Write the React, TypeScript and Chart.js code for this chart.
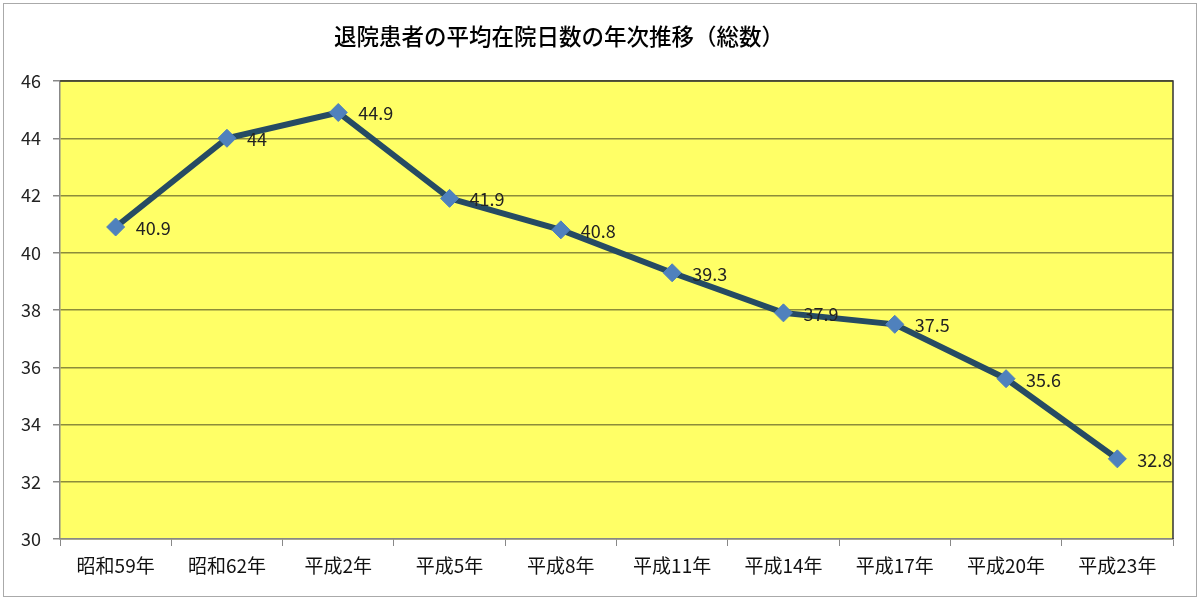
import { useEffect, useRef } from 'react'
import { Chart, registerables } from 'chart.js'

Chart.register(...registerables)

const years = ['昭和59年', '昭和62年', '平成2年', '平成5年', '平成8年', '平成11年', '平成14年', '平成17年', '平成20年', '平成23年']
const avgDays = [40.9, 44, 44.9, 41.9, 40.8, 39.3, 37.9, 37.5, 35.6, 32.8]
const titleText = '退院患者の平均在院日数の年次推移（総数）'

const FONT = '"Noto Sans CJK JP", "Noto Sans", sans-serif'

// yellow plot background + dark top/right frame
const plotBg = {
  id: 'plotBg',
  beforeDraw(chart: Chart) {
    const { ctx, chartArea: a } = chart
    ctx.save()
    ctx.fillStyle = '#ffff66'
    ctx.fillRect(a.left, a.top, a.right - a.left, a.bottom - a.top)
    ctx.restore()
  },
  afterDraw(chart: Chart) {
    const { ctx, chartArea: a } = chart
    ctx.save()
    ctx.strokeStyle = '#333'
    ctx.lineWidth = 1.5
    ctx.beginPath()
    ctx.moveTo(a.left, a.top)
    ctx.lineTo(a.right, a.top)
    ctx.lineTo(a.right, a.bottom)
    ctx.stroke()
    ctx.restore()
  },
}

// value labels to the right of each point
const valueLabels = {
  id: 'valueLabels',
  afterDatasetsDraw(chart: Chart) {
    const { ctx } = chart
    const meta = chart.getDatasetMeta(0)
    ctx.save()
    ctx.font = `18px ${FONT}`
    ctx.fillStyle = '#222'
    ctx.textAlign = 'left'
    ctx.textBaseline = 'middle'
    meta.data.forEach((pt, i) => {
      ctx.fillText(String(avgDays[i]), pt.x + 20, pt.y + 1)
    })
    ctx.restore()
  },
}

function DaysChart() {
  const canvasRef = useRef<HTMLCanvasElement>(null)

  useEffect(() => {
    if (!canvasRef.current) return
    const chart = new Chart(canvasRef.current, {
      type: 'line',
      data: {
        labels: years,
        datasets: [
          {
            data: avgDays,
            borderColor: '#264b63',
            borderWidth: 6,
            pointStyle: 'rectRot',
            pointRadius: 9,
            pointBackgroundColor: '#4f81bd',
            pointBorderColor: '#4f81bd',
            pointBorderWidth: 1,
            tension: 0,
          },
        ],
      },
      options: {
        animation: false,
        responsive: true,
        maintainAspectRatio: false,
        layout: { padding: { left: 0, right: 27, top: 81, bottom: 0 } },
        plugins: {
          legend: { display: false },
          tooltip: { enabled: false },
        },
        scales: {
          x: {
            offset: true,
            grid: { offset: true, drawOnChartArea: false, tickLength: 7, tickColor: '#888' },
            border: { color: '#888', width: 1.5 },
            ticks: { color: '#111', font: { family: FONT, size: 19 }, padding: 8, maxRotation: 0 },
            afterFit: (s: any) => { s.height = 68 },
          },
          y: {
            min: 30,
            max: 46,
            ticks: { stepSize: 2, color: '#222', font: { family: FONT, size: 18 }, padding: 12 },
            grid: { color: '#8c8c3a', lineWidth: 1.5, tickLength: 7, tickColor: '#888' },
            border: { color: '#888', width: 1.5 },
            afterFit: (s: any) => { s.width = 60 },
          },
        },
      },
      plugins: [plotBg, valueLabels],
    })
    return () => { chart.destroy() }
  }, [])

  return (
    <div style={{ position: 'absolute', left: 0, top: 0, width: 1200, height: 607 }}>
      <canvas ref={canvasRef} />
    </div>
  )
}

export default function App() {
  return (
    <div style={{ position: 'fixed', left: 0, top: 0, width: 1200, height: 607, background: '#fff', fontFamily: FONT }}>
      <div style={{ position: 'absolute', left: 3, top: 3, width: 1192, height: 592, border: '1px solid #aaa' }} />
      <DaysChart />
      <div
        style={{
          position: 'absolute',
          left: 259,
          width: 600,
          top: 20,
          textAlign: 'center',
          fontSize: 22.5,
          lineHeight: '30px',
          color: '#000',
          fontWeight: 500,
        }}
      >
        {titleText}
      </div>
    </div>
  )
}
